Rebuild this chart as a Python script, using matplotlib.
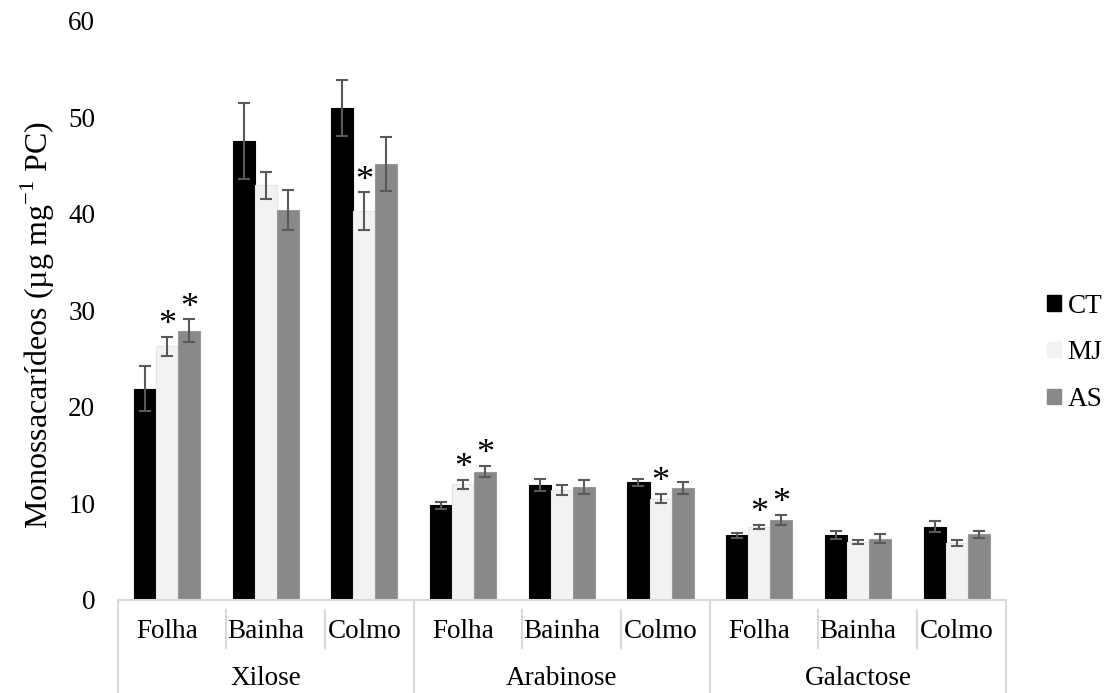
import numpy as np
import matplotlib
matplotlib.use('Agg')
import matplotlib.pyplot as plt
from matplotlib.patches import Patch

# data (µg mg-1 PC), order: Xilose / Arabinose / Galactose x Folha / Bainha / Colmo
groups = ['Xilose', 'Arabinose', 'Galactose']
parts = ['Folha', 'Bainha', 'Colmo']
treatments = ['CT', 'MJ', 'AS']

ct = [21.9, 47.6, 51.0, 9.8, 11.9, 12.2, 6.7, 6.7, 7.6]
ct_err = [2.35, 3.95, 2.9, 0.35, 0.65, 0.35, 0.28, 0.42, 0.54]
mj = [26.3, 43.0, 40.3, 12.0, 11.4, 10.5, 7.6, 6.0, 5.9]
mj_err = [1.0, 1.4, 1.95, 0.45, 0.5, 0.5, 0.2, 0.24, 0.35]
as_ = [27.9, 40.4, 45.2, 13.3, 11.7, 11.6, 8.3, 6.35, 6.8]
as_err = [1.2, 2.1, 2.8, 0.6, 0.75, 0.6, 0.52, 0.45, 0.35]

# significance vs CT
mj_sig = [1, 0, 1, 1, 0, 1, 1, 0, 0]
as_sig = [1, 0, 0, 1, 0, 0, 1, 0, 0]

colors = ['#000000', '#f2f2f2', '#898989']
edges = ['#000000', '#e6e6e6', '#9a9a9a']

plt.rcParams['font.family'] = ['Liberation Serif', 'DejaVu Serif']
plt.rcParams['mathtext.fontset'] = 'custom'
plt.rcParams['mathtext.rm'] = 'Liberation Serif'
fontsize = 19.5

fig = plt.figure(figsize=(11.06, 6.93), dpi=100)
ax = fig.add_axes([0.1063, 0.1342, 0.8033, 0.8355])

n = len(ct)
x = np.arange(n)
w = 0.223
series = [(ct, ct_err, None), (mj, mj_err, mj_sig), (as_, as_err, as_sig)]
for k, (vals, errs, sig) in enumerate(series):
    xs = x + (k - 1) * w
    ax.bar(xs, vals, w, color=colors[k], edgecolor=edges[k], linewidth=0.8, zorder=2)
    ax.errorbar(xs, vals, yerr=errs, fmt='none', ecolor='#595959', elinewidth=1.5,
                capsize=4.2, capthick=1.5, zorder=3)
    if sig is not None:
        for i in range(n):
            if sig[i]:
                ax.annotate('*', (xs[i], vals[i] + errs[i]), xytext=(0, 8),
                            textcoords='offset points', ha='center', va='center',
                            fontsize=26)

ax.set_xlim(-0.5, n - 0.5)
ax.set_ylim(0, 60)
ax.set_yticks(np.arange(0, 61, 10))
ax.tick_params(axis='y', length=0, pad=16, labelsize=fontsize)
ax.set_xticks([])
for s in ['top', 'right', 'left', 'bottom']:
    ax.spines[s].set_visible(False)

# category table under the bars
trans = ax.get_xaxis_transform()
line_c = '#d9d9d9'
ax.plot([-0.5, n - 0.5], [0, 0], color=line_c, lw=1.5, transform=trans, clip_on=False)
for g in range(len(groups) + 1):
    xg = g * 3 - 0.5
    ax.plot([xg, xg], [0, -0.161], color=line_c, lw=1.5, transform=trans, clip_on=False)
for i in range(n):
    ax.text(i, -0.055, parts[i % 3], ha='center', va='center', fontsize=fontsize,
            transform=trans)
    if i % 3:
        ax.plot([i - 0.4, i - 0.4], [-0.017, -0.083], color=line_c, lw=1.5,
                transform=trans, clip_on=False)
for g, name in enumerate(groups):
    ax.text(g * 3 + 1, -0.135, name, ha='center', va='center', fontsize=fontsize,
            transform=trans)

fig.text(38 / 1106, 1 - 325 / 693, r'Monossacarídeos (µg mg$^{\mathrm{-1}}$ PC)',
         rotation=90, ha='center', va='center', fontsize=23)

handles = [Patch(facecolor=colors[k], edgecolor=colors[k]) for k in range(3)]
fig.legend(handles, treatments, loc='center left', bbox_to_anchor=(0.947, 0.491),
           frameon=False, fontsize=fontsize, handlelength=0.5, handleheight=0.5,
           handletextpad=0.25, labelspacing=0.8, borderpad=0, borderaxespad=0)

fig.savefig('out.png', dpi=100)
